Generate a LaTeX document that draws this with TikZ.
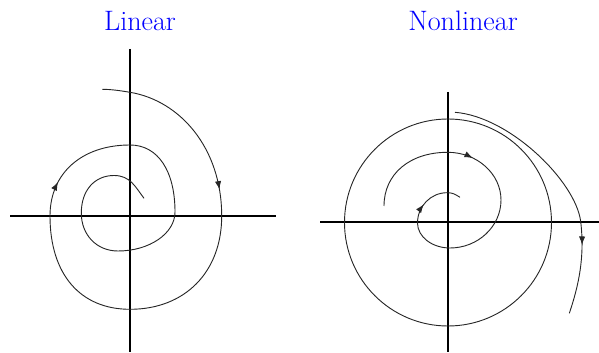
\documentclass[tikz,border=0pt]{standalone}
\usepackage{tikz}
\usetikzlibrary{arrows.meta, decorations.markings}

\begin{document}
\begin{tikzpicture}[x=0.025cm, y=-0.025cm,
    axis/.style={line width=1pt, black},
    orbit/.style={line width=0.65pt, black!85},
    title/.style={text=blue, font=\fontsize{20}{24}\selectfont, anchor=base},
    flowtip/.style={postaction={decorate, decoration={markings,
        mark=at position #1 with {\arrow{Latex[length=6pt, width=4.5pt]}}}}}
]
    \useasboundingbox (0,0) rectangle (599,353);

    % Titles
    \node[title] (lin) at (140,31) {Linear};
    \node[title] (nonlin) at (463,31) {Nonlinear};

    % Linear: axes
    \draw[axis] (10,216) -- (276,216);
    \draw[axis] (130,49) -- (130,352);

    % Linear: spiral, clockwise and inwards
    \draw[orbit, flowtip=0.183, flowtip=0.56] (102.3,89.3)
        .. controls +(9,0) and +(-9,-1.5) .. (130,92.3)
        .. controls +(50,8.3) and +(0,-68) .. (221.7,216)
        .. controls +(0,56) and +(55,0) .. (130,309.3)
        .. controls +(-50,0) and +(0,58) .. (50,216)
        .. controls +(0,-43) and +(-48,0) .. (130,145)
        .. controls +(28,0) and +(0,-41) .. (175,212)
        .. controls +(0,21.5) and +(31.4,0) .. (118,251)
        .. controls +(-21.3,0) and +(0,22) .. (81.3,213)
        .. controls +(0,-22.5) and +(-19.6,0) .. (114,175.5)
        .. controls +(16,0) and +(-9,-12) .. (144,198.3);

    % Nonlinear: axes
    \draw[axis] (320,222) -- (599,222);
    \draw[axis] (448,92) -- (448,352);

    % Nonlinear: limit cycle
    \draw[orbit] (448,222.5) circle[radius=103.5];

    % Nonlinear: inner spiral
    \draw[orbit, flowtip=0.335, flowtip=0.885] (384,206)
        .. controls +(0,-32) and +(-38,0) .. (447.7,152.3)
        .. controls +(29.3,0) and +(0,-26.2) .. (501,200)
        .. controls +(0,26.4) and +(28,0) .. (450,248)
        .. controls +(-17.9,0) and +(0,13.8) .. (417.5,223)
        .. controls +(0,-16.7) and +(-16.2,0) .. (447,192.7)
        .. controls +(6,0) and +(-5,-3) .. (460,197.3);

    % Nonlinear: outer orbit
    \draw[orbit, flowtip=0.74] (455,112.3)
        .. controls +(55,4.4) and +(-4.8,-40) .. (580.7,221.7)
        .. controls +(4.2,35) and +(9.5,-28) .. (569.3,313.3);
\end{tikzpicture}
\end{document}
